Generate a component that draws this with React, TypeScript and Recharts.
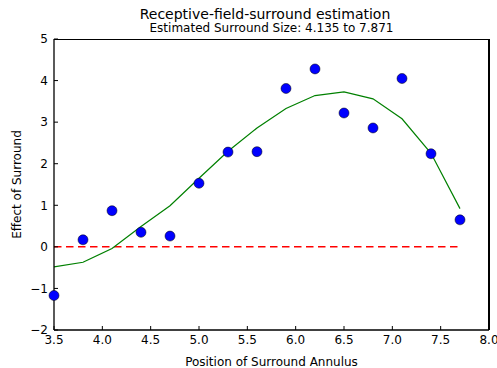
import { ComposedChart, Line, Scatter, XAxis, YAxis } from "recharts";

const positions = [3.5, 3.8, 4.1, 4.4, 4.7, 5.0, 5.3, 5.6, 5.9, 6.2, 6.5, 6.8, 7.1, 7.4, 7.7];
const observed = [-1.17, 0.17, 0.87, 0.35, 0.26, 1.53, 2.28, 2.29, 3.81, 4.28, 3.22, 2.86, 4.05, 2.24, 0.65];
const fitted = [-0.48, -0.37, -0.04, 0.49, 0.99, 1.65, 2.3, 2.86, 3.33, 3.64, 3.73, 3.56, 3.08, 2.25, 0.92];
const xTicks = [3.5, 4.0, 4.5, 5.0, 5.5, 6.0, 6.5, 7.0, 7.5, 8.0];
const yTicks = [-2, -1, 0, 1, 2, 3, 4, 5];

const data = positions.map((x, i) => ({ x, obs: observed[i], fit: fitted[i], zero: 0 }));

const font = "'DejaVu Sans', sans-serif";
const tickStyle = { fontSize: 12, fill: "#000", fontFamily: font };
const frame = { stroke: "#000", strokeWidth: 1.3 };

// plot box inside the 497x368 chart
const M = { top: 39, right: 8, left: 54, bottom: 38 };

export default function App() {
  return (
    <div style={{ position: "absolute", left: 0, top: 0, width: 497, height: 368, background: "#fff", fontFamily: font }}>
      <ComposedChart width={497} height={368} data={data} margin={{ top: M.top, right: M.right, bottom: 0, left: 0 }}>
        <XAxis
          dataKey="x"
          type="number"
          domain={[3.5, 8]}
          ticks={xTicks}
          tickFormatter={(v: number) => v.toFixed(1)}
          height={M.bottom}
          tickSize={-4}
          tickMargin={9}
          axisLine={frame}
          tickLine={{ stroke: "#000" }}
          tick={tickStyle}
          label={{ value: "Position of Surround Annulus", position: "insideBottom", offset: 2, style: { ...tickStyle, textAnchor: "middle" } }}
        />
        <YAxis
          type="number"
          domain={[-2, 5]}
          ticks={yTicks}
          tickFormatter={(v: number) => (v < 0 ? "\u2212" + Math.abs(v) : String(v))}
          width={M.left}
          tickSize={-4}
          tickMargin={10}
          axisLine={frame}
          tickLine={{ stroke: "#000" }}
          tick={tickStyle}
          label={{ value: "Effect of Surround", angle: -90, position: "insideLeft", offset: 17, style: { ...tickStyle, textAnchor: "middle" } }}
        />
        <Line
          dataKey="zero"
          stroke="#ff0000"
          strokeWidth={1.5}
          strokeDasharray="7.5 4.5"
          dot={false}
          isAnimationActive={false}
        />
        <Line
          dataKey="fit"
          type="linear"
          stroke="#008000"
          strokeWidth={1.2}
          dot={false}
          isAnimationActive={false}
        />
        <Scatter
          dataKey="obs"
          fill="#0000ff"
          stroke="#000"
          strokeWidth={0.5}
          shape={(p: any) => <circle cx={p.cx} cy={p.cy} r={5} fill="#0000ff" stroke="#000" strokeWidth={0.5} />}
          isAnimationActive={false}
        />
      </ComposedChart>
      {/* top and right spines of the matplotlib-style box */}
      <div
        style={{
          position: "absolute",
          zIndex: 2,
          left: M.left,
          top: M.top,
          width: 497 - M.left - M.right + 1,
          height: 368 - M.top - M.bottom,
          borderTop: "1px solid #000",
          borderRight: "2px solid #000",
          boxSizing: "border-box",
          pointerEvents: "none",
        }}
      />
      <div style={{ position: "absolute", left: 0, width: 530, top: 6, textAlign: "center", fontSize: 14, lineHeight: "16px" }}>
        Receptive-field-surround estimation
      </div>
      <div style={{ position: "absolute", left: 0, width: 543, top: 21, textAlign: "center", fontSize: 12, lineHeight: "14px" }}>
        Estimated Surround Size: 4.135 to 7.871
      </div>
    </div>
  );
}
